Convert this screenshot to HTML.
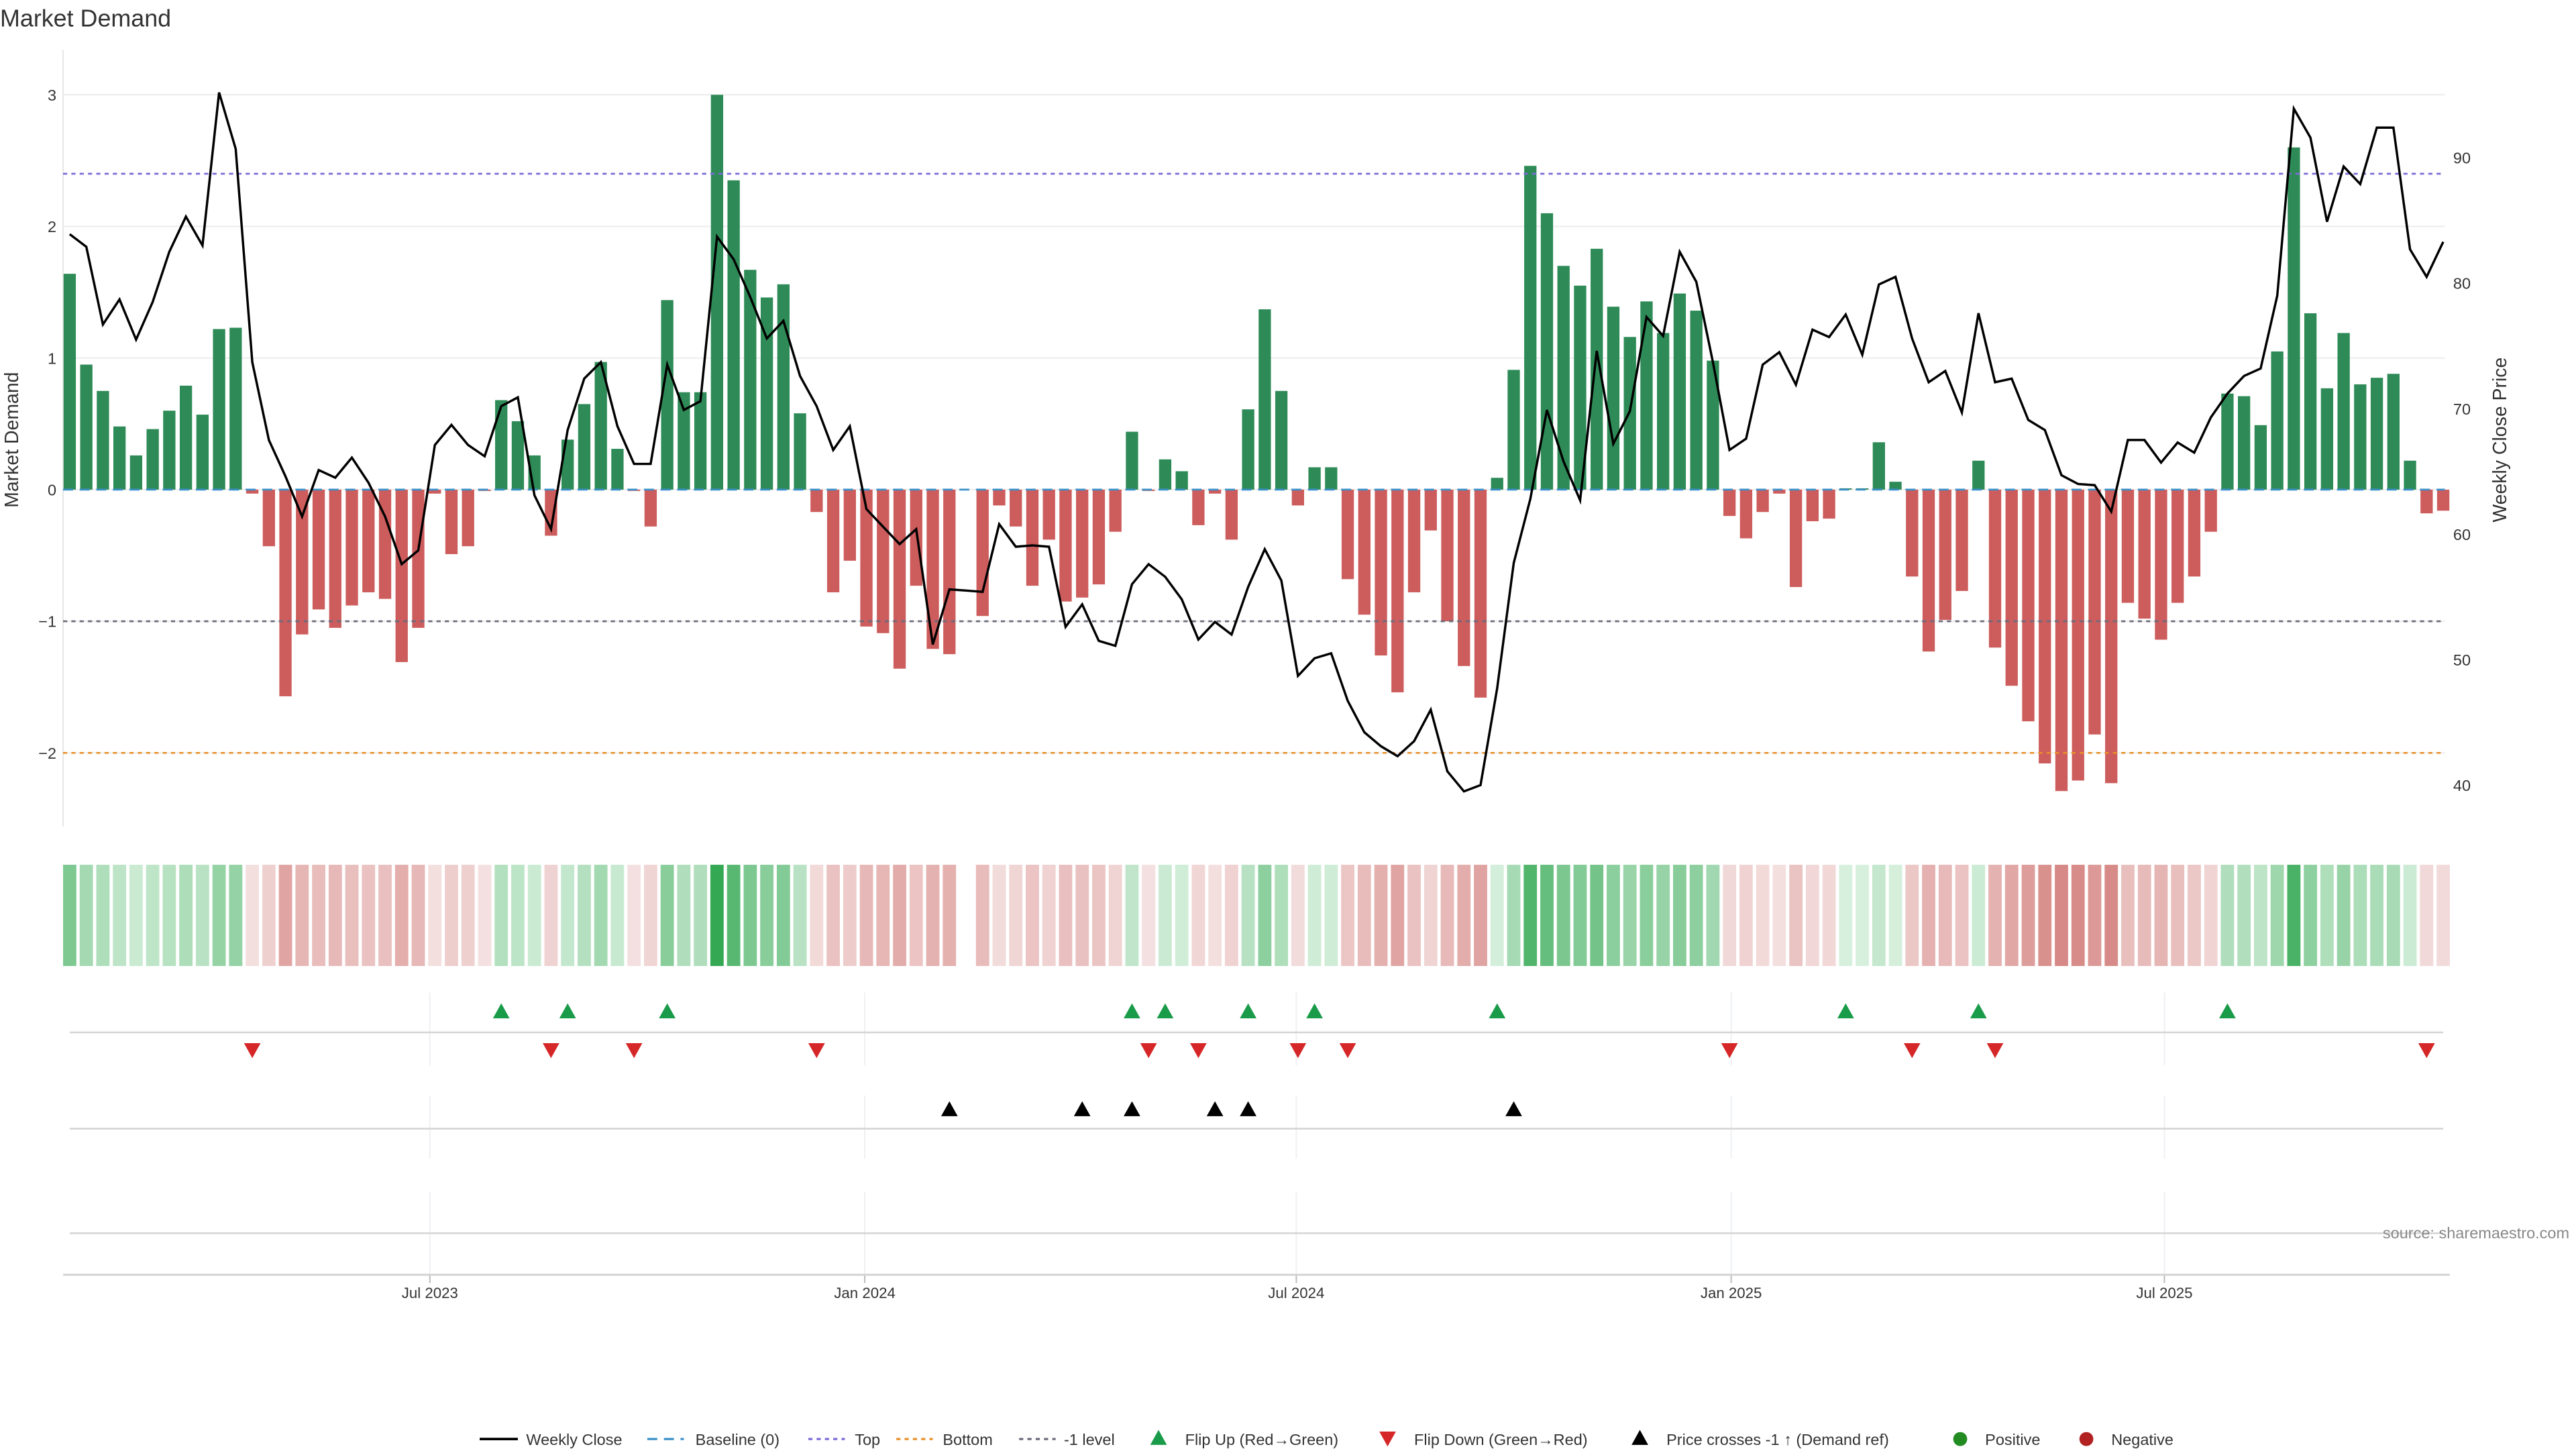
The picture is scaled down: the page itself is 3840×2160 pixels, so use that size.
<!DOCTYPE html>
<html><head><meta charset="utf-8">
<style>
html,body{margin:0;padding:0;background:#fff;}
svg{display:block;font-family:"Liberation Sans","DejaVu Sans",sans-serif;}
</style></head>
<body>
<svg id="chart" width="3840" height="2160" viewBox="0 0 1552 873" xmlns="http://www.w3.org/2000/svg">
<rect x="0" y="0" width="1552" height="873" fill="#fff"/>
<text x="0" y="16" font-size="14.5" fill="#333">Market Demand</text>
<g id="main"></g>
</svg>
<script>
const demand = [1.64,0.95,0.75,0.48,0.26,0.46,0.60,0.79,0.57,1.22,1.23,-0.03,-0.43,-1.57,-1.10,-0.91,-1.05,-0.88,-0.78,-0.83,
-1.31,-1.05,-0.03,-0.49,-0.43,-0.01,0.68,0.52,0.26,-0.35,0.38,0.65,0.97,0.31,-0.01,-0.28,1.44,0.74,0.74,3.0,
2.35,1.67,1.46,1.56,0.58,-0.17,-0.78,-0.54,-1.04,-1.09,-1.36,-0.73,-1.21,-1.25,null,-0.96,-0.12,-0.28,-0.73,-0.38,
-0.85,-0.82,-0.72,-0.32,0.44,-0.01,0.23,0.14,-0.27,-0.03,-0.38,0.61,1.37,0.75,-0.12,0.17,0.17,-0.68,-0.95,-1.26,
-1.54,-0.78,-0.31,-1.0,-1.34,-1.58,0.09,0.91,2.46,2.10,1.70,1.55,1.83,1.39,1.16,1.43,1.19,1.49,1.36,0.98,
-0.20,-0.37,-0.17,-0.03,-0.74,-0.24,-0.22,0.01,0.01,0.36,0.06,-0.66,-1.23,-0.99,-0.77,0.22,-1.2,-1.49,-1.76,-2.08,
-2.29,-2.21,-1.86,-2.23,-0.86,-0.98,-1.14,-0.86,-0.66,-0.32,0.73,0.71,0.49,1.05,2.60,1.34,0.77,1.19,0.80,0.85,
0.88,0.22,-0.18,-0.16];
const price = [83.9,82.9,76.7,78.7,75.5,78.5,82.5,85.3,83.0,95.2,90.7,73.7,67.5,64.6,61.4,65.1,64.5,66.1,64.1,61.4,
57.6,58.7,67.1,68.7,67.1,66.2,70.2,70.9,63.1,60.4,68.3,72.4,73.7,68.6,65.6,65.6,73.5,69.9,70.6,83.7,
81.9,78.9,75.6,77.0,72.6,70.2,66.7,68.6,62.0,60.6,59.2,60.4,51.2,55.6,55.5,55.4,60.8,59.0,59.1,59.0,
52.6,54.4,51.5,51.1,56.0,57.6,56.6,54.8,51.6,53.0,52.0,55.8,58.8,56.3,48.7,50.1,50.5,46.7,44.2,43.1,
42.3,43.5,46.0,41.1,39.5,40.0,47.7,57.7,62.8,69.9,65.8,62.7,74.6,67.2,69.8,77.3,75.8,82.5,80.1,73.7,
66.7,67.6,73.5,74.5,71.9,76.3,75.7,77.5,74.3,79.9,80.5,75.6,72.1,73.0,69.7,77.6,72.1,72.4,69.1,68.3,
64.7,64.0,63.9,61.8,67.5,67.5,65.7,67.3,66.5,69.3,71.2,72.6,73.2,79.0,93.9,91.6,84.9,89.3,87.9,92.4,
92.4,82.7,80.5,83.3];
const crossIdx = [53,61,64,69,71,87];
const leftTicks = [3,2,1,0,-1,-2];
const leftTickLabels = ["3","2","1","0","\u22121","\u22122"];
const rightTicks = [90,80,70,60,50,40];
const monthPos = [21.7,47.9,73.9,100.1,126.2];
const monthLabels = ["Jul 2023","Jan 2024","Jul 2024","Jan 2025","Jul 2025"];
const refTop = 2.4, refMinus1 = -1, refBottom = -2;

const NS="http://www.w3.org/2000/svg";
const g=document.getElementById('main');
function el(tag,attrs,parent){const e=document.createElementNS(NS,tag);for(const k in attrs)e.setAttribute(k,attrs[k]);(parent||g).appendChild(e);return e;}
const X0=42, DX=10.0, L=38, R=1473;
const xs=i=>X0+i*DX;
const yL=v=>295-v*79.3;
const yR=p=>473-(p-40)*7.56;

// gridlines
leftTicks.forEach((t,k)=>{
  const ln=el('line',{x1:L,x2:R,y1:yL(t),y2:yL(t),stroke:'#ececec','stroke-width':0.8});
  
  
  const tx=el('text',{x:34,y:yL(t)+3.5,'font-size':9.5,'text-anchor':'end',fill:'#333'});
  tx.textContent=leftTickLabels[k];
  
  
});
rightTicks.forEach(t=>{
  const tx=el('text',{x:1478,y:yR(t)+3.5,'font-size':9.5,fill:'#333'});
  tx.textContent=String(t);
  
  
});
el('line',{x1:L,x2:L,y1:30,y2:498,stroke:'#e6e6e6','stroke-width':0.8});
let t1=el('text',{x:0,y:0,'font-size':11.5,'text-anchor':'middle',fill:'#333',transform:'translate(11,265) rotate(-90)'});
t1.textContent='Market Demand';


let t2=el('text',{x:0,y:0,'font-size':11.5,'text-anchor':'middle',fill:'#333',transform:'translate(1510,265) rotate(-90)'});
t2.textContent='Weekly Close Price';



// bars
demand.forEach((v,i)=>{
  if(v===null)return;
  const y0=yL(0),y1=yL(v);
  const b=el('rect',{x:xs(i)-3.7,y:Math.min(y0,y1),width:7.4,height:Math.max(Math.abs(y1-y0),0.6),fill:v>=0?'#2e8b57':'#cd5c5c'});
  
  
});
// reference lines
function ref(v,color,dash,name){const l=el('line',{x1:L,x2:R,y1:yL(v),y2:yL(v),stroke:color,'stroke-width':1.1,'stroke-dasharray':dash});}
ref(0,'#3a8fc8','6,4','baseline-line');
ref(refTop,'#7a6bd6','2.5,2.5','top-line');
ref(refMinus1,'#6b6b7b','2.5,2.5','minus1-line');
ref(refBottom,'#e8902a','2.5,2.5','bottom-line');
// price line
const pts=price.map((p,i)=>xs(i).toFixed(1)+','+yR(p).toFixed(1)).join(' ');
const pl=el('polyline',{points:pts,fill:'none',stroke:'#000','stroke-width':1.4,'stroke-linejoin':'miter'});



// heatmap
function mix(a,b,t){return 'rgb('+a.map((c,k)=>Math.round(c+(b[k]-c)*t)).join(',')+')';}
demand.forEach((v,i)=>{
  if(v===null)return;
  const t=Math.min(Math.abs(v)/3,1);
  const c=v>=0?mix([216,240,222],[52,168,83],t):mix([244,224,224],[205,110,106],t);
  const r=el('rect',{x:xs(i)-4,y:521,width:8,height:61,fill:c});
  
  
});

// lower panels
monthPos.forEach(m=>{
  const x=xs(m);
  [[598,642],[660,698],[718,768]].forEach(([a,b])=>el('line',{x1:x,x2:x,y1:a,y2:b,stroke:'#eef0f4','stroke-width':0.8}));
  el('line',{x1:x,x2:x,y1:768,y2:773,stroke:'#bbb','stroke-width':0.8});
});
[622,680,743].forEach(y=>el('line',{x1:42,x2:1472,y1:y,y2:y,stroke:'#d4d4d4','stroke-width':1}));
el('line',{x1:38,x2:1476,y1:768,y2:768,stroke:'#d4d4d4','stroke-width':1.2});
monthLabels.forEach((s,k)=>{
  const tx=el('text',{x:xs(monthPos[k]),y:782,'font-size':9,'text-anchor':'middle',fill:'#333'});
  tx.textContent=s;
  
  
});
function tri(x,y,up,color){const p=up?`${x-5},${y+4.5} ${x+5},${y+4.5} ${x},${y-4.5}`:`${x-5},${y-4.5} ${x+5},${y-4.5} ${x},${y+4.5}`;return el('polygon',{points:p,fill:color});}
for(let i=1;i<demand.length;i++){
  let j=i-1; while(j>=0&&demand[j]===null)j--;
  const a=demand[j],b=demand[i];
  if(a===null||b===null||j<0)continue;
  if(a<0&&b>0){const m=tri(xs(i),609,true,'#1a9b4a');}
  if(a>0&&b<0){const m=tri(xs(i),633,false,'#d62728');}
}
crossIdx.forEach(i=>{const m=tri(xs(i),668,true,'#000');});
const src=el('text',{x:1548,y:746,'font-size':9.5,'text-anchor':'end',fill:'#888'});
src.textContent='source: sharemaestro.com';



// legend
const lg=el('g',{});


const LY=867;
function ltext(x,s){const t=el('text',{x:x,y:LY+3.5,'font-size':9.5,fill:'#333'},lg);t.textContent=s;}
el('line',{x1:289,x2:312,y1:LY,y2:LY,stroke:'#000','stroke-width':1.5},lg); ltext(317,'Weekly Close');
el('line',{x1:390,x2:412,y1:LY,y2:LY,stroke:'#3a8fc8','stroke-width':1.3,'stroke-dasharray':'6,4'},lg); ltext(419,'Baseline (0)');
el('line',{x1:487,x2:509,y1:LY,y2:LY,stroke:'#7a6bd6','stroke-width':1.3,'stroke-dasharray':'2.5,2.5'},lg); ltext(515,'Top');
el('line',{x1:540,x2:562,y1:LY,y2:LY,stroke:'#e8902a','stroke-width':1.3,'stroke-dasharray':'2.5,2.5'},lg); ltext(568,'Bottom');
el('line',{x1:614,x2:636,y1:LY,y2:LY,stroke:'#6b6b7b','stroke-width':1.3,'stroke-dasharray':'2.5,2.5'},lg); ltext(641,'-1 level');
lg.appendChild(tri(698,LY-1,true,'#1a9b4a')); ltext(714,'Flip Up (Red\u2192Green)');
lg.appendChild(tri(836,LY,false,'#d62728')); ltext(852,'Flip Down (Green\u2192Red)');
lg.appendChild(tri(988,LY-1,true,'#000')); ltext(1004,'Price crosses -1 \u2191 (Demand ref)');
el('circle',{cx:1181,cy:LY,r:4.2,fill:'#228b22'},lg); ltext(1196,'Positive');
el('circle',{cx:1257,cy:LY,r:4.2,fill:'#b22222'},lg); ltext(1272,'Negative');
</script>
</body></html>
